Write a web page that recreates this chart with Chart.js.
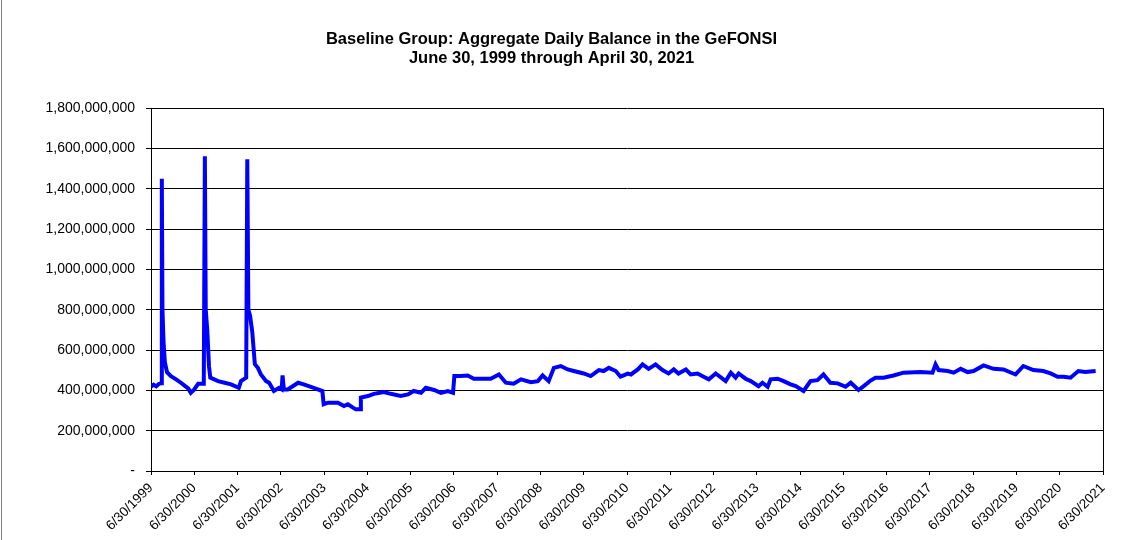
<!DOCTYPE html>
<html>
<head>
<meta charset="utf-8">
<title>GeFONSI Baseline Group</title>
<script src="https://cdn.jsdelivr.net/npm/chart.js@4.4.1/dist/chart.umd.min.js"></script>
<style>
  body { margin: 0; background: #fff; }
  canvas { display: block; }
</style>
</head>
<body>
<canvas id="grafico" width="1127" height="540"></canvas>
<script>
// dates as decimal years (6/30/1999 = 1999.5)
var fechas = [
  1999.50, 1999.56, 1999.62, 1999.68, 1999.735, 1999.75, 1999.765, 1999.79, 1999.82, 1999.87,
  1999.96, 2000.08, 2000.19, 2000.29, 2000.36, 2000.42, 2000.49, 2000.59, 2000.72, 2000.745,
  2000.765, 2000.80, 2000.84, 2000.87, 2001.05, 2001.20, 2001.35, 2001.53, 2001.58, 2001.70,
  2001.725, 2001.75, 2001.79, 2001.84, 2001.90, 2001.97, 2002.04, 2002.16, 2002.23, 2002.34,
  2002.46, 2002.52, 2002.54, 2002.57, 2002.66, 2002.90, 2003.03, 2003.26, 2003.46, 2003.49,
  2003.59, 2003.82, 2003.96, 2004.05, 2004.23, 2004.33, 2004.35, 2004.51, 2004.65, 2004.88,
  2005.04, 2005.27, 2005.44, 2005.57, 2005.74, 2005.85, 2006.04, 2006.20, 2006.36, 2006.48,
  2006.51, 2006.66, 2006.82, 2006.96, 2007.35, 2007.54, 2007.70, 2007.88, 2008.05, 2008.28,
  2008.44, 2008.55, 2008.69, 2008.81, 2008.97, 2009.13, 2009.27, 2009.50, 2009.66, 2009.85,
  2009.96, 2010.08, 2010.24, 2010.35, 2010.52, 2010.59, 2010.75, 2010.86, 2011.00, 2011.16,
  2011.32, 2011.46, 2011.58, 2011.69, 2011.86, 2011.97, 2012.13, 2012.27, 2012.39, 2012.55,
  2012.78, 2012.90, 2013.01, 2013.08, 2013.24, 2013.36, 2013.54, 2013.63, 2013.75, 2013.82,
  2013.98, 2014.12, 2014.28, 2014.40, 2014.58, 2014.74, 2014.90, 2015.04, 2015.20, 2015.37,
  2015.55, 2015.67, 2015.85, 2015.97, 2016.13, 2016.24, 2016.43, 2016.66, 2016.89, 2017.28,
  2017.56, 2017.63, 2017.70, 2017.91, 2018.05, 2018.21, 2018.37, 2018.51, 2018.74, 2018.97,
  2019.20, 2019.48, 2019.66, 2019.89, 2020.12, 2020.29, 2020.45, 2020.59, 2020.75, 2020.93,
  2021.09, 2021.33
];

// aggregate daily balance, in millions
var saldos = [
  418, 428, 420, 432, 436, 1450, 800, 640, 540, 490,
  471, 455, 438, 421, 410, 388, 402, 433, 433, 1562,
  800, 700, 520, 463, 446, 438, 430, 413, 446, 463,
  1547, 800, 770, 690, 530, 512, 479, 446, 438, 397,
  413, 405, 474, 405, 405, 438, 430, 413, 397, 331,
  339, 339, 322, 331, 306, 306, 364, 372, 383, 392,
  383, 372, 380, 397, 388, 413, 402, 388, 397, 388,
  471, 471, 474, 458, 458, 479, 438, 433, 455, 441,
  446, 474, 446, 512, 521, 504, 496, 484, 471, 501,
  496, 512, 496, 468, 483, 479, 504, 529, 507, 529,
  501, 484, 504, 484, 504, 479, 484, 468, 455, 484,
  446, 488, 463, 484, 458, 446, 421, 438, 418, 455,
  458, 446, 430, 421, 397, 446, 451, 479, 438, 435,
  418, 438, 402, 421, 449, 463, 463, 474, 488, 491,
  488, 529, 501, 496, 488, 507, 491, 496, 524, 507,
  504, 479, 521, 501, 496, 484, 468, 468, 463, 496,
  491, 496
];

// years on the x axis (each tick is June 30)
var aniosEje = [
  1999, 2000, 2001, 2002, 2003, 2004, 2005, 2006, 2007, 2008, 2009,
  2010, 2011, 2012, 2013, 2014, 2015, 2016, 2017, 2018, 2019, 2020, 2021
];

var fuente = "'Liberation Sans', Arial, sans-serif";

// frame of the plot area and of the whole chart
var marco = {
  id: 'marco',
  afterDraw: function(chart) {
    var ctx = chart.ctx;
    var a = chart.chartArea;
    ctx.save();
    ctx.strokeStyle = '#000';
    ctx.lineWidth = 1;
    ctx.beginPath();
    ctx.moveTo(Math.round(a.right) + 0.5, Math.round(a.top));
    ctx.lineTo(Math.round(a.right) + 0.5, Math.round(a.bottom));
    ctx.stroke();
    ctx.strokeStyle = '#808080';
    ctx.beginPath();
    ctx.moveTo(1.5, 0);
    ctx.lineTo(1.5, chart.height);
    ctx.stroke();
    ctx.restore();
  }
};

var puntos = fechas.map(function(f, i) {
  return { x: f, y: saldos[i] * 1000000 };
});

var ctx = document.getElementById('grafico').getContext('2d');
var grafico = new Chart(ctx, {
  type: 'line',
  data: {
    datasets: [{
      label: 'Aggregate Daily Balance',
      data: puntos,
      borderColor: '#0000FF',
      borderWidth: 4,
      pointRadius: 0,
      tension: 0,
      fill: false
    }]
  },
  options: {
    responsive: false,
    animation: false,
    layout: { padding: { left: 0, right: 24, top: 0, bottom: 0 } },
    plugins: {
      legend: { display: false },
      tooltip: { enabled: false },
      title: {
        display: true,
        text: ['Baseline Group: Aggregate Daily Balance in the GeFONSI',
               'June 30, 1999 through April 30, 2021'],
        color: '#000',
        font: { family: fuente, size: 16.5, weight: 'bold', lineHeight: 1.13 },
        padding: { top: 30, bottom: 41 }
      }
    },
    scales: {
      x: {
        type: 'linear',
        min: 1999.5,
        max: 2021.5,
        afterBuildTicks: function(scale) {
          scale.ticks = aniosEje.map(function(a) { return { value: a + 0.5 }; });
        },
        afterFit: function(scale) { scale.height = 69; },
        grid: { drawOnChartArea: false, drawTicks: true, tickLength: 4, color: '#000' },
        border: { display: true, color: '#000', width: 1 },
        ticks: {
          autoSkip: false,
          maxRotation: 45,
          minRotation: 45,
          color: '#000',
          padding: 5,
          font: { family: fuente, size: 13.5 },
          callback: function(value) { return '6/30/' + Math.floor(value); }
        }
      },
      y: {
        min: 0,
        max: 1800000000,
        afterFit: function(scale) { scale.width = 151; },
        grid: { color: '#000', lineWidth: 1, tickLength: 5 },
        border: { display: true, color: '#000', width: 1 },
        ticks: {
          stepSize: 200000000,
          color: '#000',
          padding: 11,
          font: { family: fuente, size: 14 },
          callback: function(value) {
            if (value === 0) return '-';
            return String(value).replace(/\B(?=(\d{3})+(?!\d))/g, ',');
          }
        }
      }
    }
  },
  plugins: [marco]
});
</script>
</body>
</html>
